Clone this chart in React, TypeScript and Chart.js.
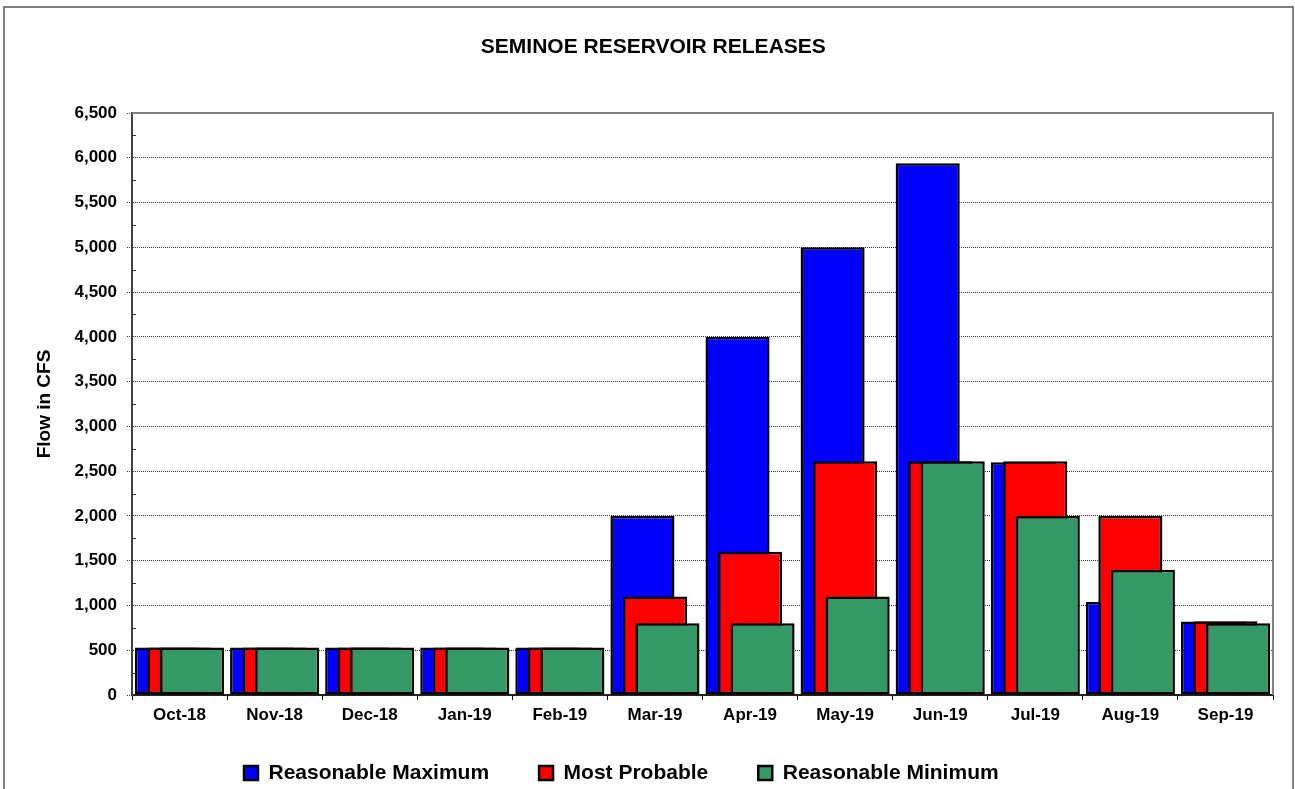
import React, { useEffect, useRef } from 'react';
import { Chart, registerables } from 'chart.js';

Chart.register(...registerables);

const categories = ['Oct-18', 'Nov-18', 'Dec-18', 'Jan-19', 'Feb-19', 'Mar-19', 'Apr-19', 'May-19', 'Jun-19', 'Jul-19', 'Aug-19', 'Sep-19'];
const reasonableMaximum = [530, 530, 530, 530, 530, 2000, 4000, 5000, 5940, 2600, 1040, 820];
const mostProbable = [530, 530, 530, 530, 530, 1100, 1600, 2610, 2610, 2610, 2000, 825];
const reasonableMinimum = [530, 530, 530, 530, 530, 800, 800, 1100, 2610, 2000, 1400, 800];
const seriesLabels = ['Reasonable Maximum', 'Most Probable', 'Reasonable Minimum'];
const seriesColors = ['#0000FF', '#FF0000', '#339966'];
const seriesShift = [-0.1316, 0, 0.1316];
const yMin = 0;
const yMax = 6500;
const yStep = 500;

const FONT = "'Liberation Sans', Arial, Helvetica, sans-serif";

export default function App() {
  const ref = useRef<HTMLCanvasElement>(null);

  useEffect(() => {
    const canvas = ref.current;
    if (!canvas) return;

    const shiftPlugin = {
      id: 'seriesShift',
      beforeDatasetDraw(chart: any, args: any) {
        const x = chart.scales.x;
        const w = x.getPixelForValue(1) - x.getPixelForValue(0);
        chart.ctx.save();
        chart.ctx.translate(seriesShift[args.index] * w, 0);
      },
      afterDatasetDraw(chart: any) {
        chart.ctx.restore();
      },
    };

    const decorPlugin = {
      id: 'decor',
      afterLayout(chart: any) {
        const lg = chart.legend;
        if (lg) {
          lg.left = 194;
          lg.top -= 12.5;
          lg.bottom -= 12.5;
        }
      },
      afterDraw(chart: any) {
        const ctx = chart.ctx;
        const { left, right, top } = chart.chartArea;
        const y = chart.scales.y;
        ctx.save();
        // minor ticks inside the value axis
        ctx.strokeStyle = '#333';
        ctx.lineWidth = 1;
        for (let v = yMin + yStep / 2; v < yMax; v += yStep) {
          const py = Math.round(y.getPixelForValue(v)) + 0.5;
          ctx.beginPath();
          ctx.moveTo(left, py);
          ctx.lineTo(left + 4, py);
          ctx.stroke();
        }
        // plot area top/right border
        ctx.strokeStyle = '#808080';
        ctx.lineWidth = 2;
        ctx.beginPath();
        ctx.moveTo(left, top);
        ctx.lineTo(right, top);
        ctx.lineTo(right, chart.scales.y.getPixelForValue(0));
        ctx.stroke();
        // outer chart frame
        ctx.strokeStyle = '#555';
        ctx.lineWidth = 1.5;
        ctx.strokeRect(4, 7, 1289, 900);
        ctx.restore();
      },
    };

    const seriesData = [reasonableMaximum, mostProbable, reasonableMinimum];

    const chart = new Chart(canvas, {
      type: 'bar',
      data: {
        labels: categories,
        datasets: seriesData.map((d, i) => ({
          label: seriesLabels[i],
          data: d,
          backgroundColor: seriesColors[i],
          borderColor: '#000',
          borderWidth: 2.5,
          borderSkipped: false,
          order: 3 - i,
          grouped: false,
          barPercentage: 0.674,
          categoryPercentage: 1,
        })),
      },
      options: {
        animation: false,
        responsive: true,
        maintainAspectRatio: false,
        layout: { padding: { left: 33.6, right: 22, top: 0, bottom: -17 } },
        plugins: {
          title: {
            display: true,
            text: 'SEMINOE RESERVOIR RELEASES',
            color: '#000',
            font: { family: FONT, size: 21, weight: 'bold' },
            padding: { top: 34.4, bottom: 53.4 },
          },
          legend: {
            position: 'bottom',
            align: 'start',
            labels: {
              boxWidth: 14,
              boxHeight: 14,
              padding: 50,
              color: '#000',
              font: { family: FONT, size: 21, weight: 'bold' },
              sort: (a: any, b: any) => a.datasetIndex - b.datasetIndex,
            },
          },
          tooltip: { enabled: false },
        },
        scales: {
          x: {
            grid: { offset: true, drawOnChartArea: false, drawTicks: true, tickLength: 5, color: '#000', lineWidth: 1 },
            border: { color: '#222', width: 2 },
            ticks: { color: '#000', font: { family: FONT, size: 17, weight: 'bold' }, padding: 5, maxRotation: 0, autoSkip: false },
            afterFit: (s: any) => { s.height = 30; },
          },
          y: {
            min: yMin,
            max: yMax,
            ticks: {
              stepSize: yStep,
              color: '#000',
              font: { family: FONT, size: 17, weight: 'bold' },
              padding: 10,
              callback: (v: any) => Number(v).toLocaleString('en-US'),
            },
            grid: {
              color: (c: any) => (c.tick && c.tick.value === 0 ? 'rgba(0,0,0,0)' : '#333'),
              tickColor: '#333',
              tickLength: 5,
              tickBorderDash: [1, 1],
              lineWidth: 1,
            },
            border: { color: '#404040', width: 2, dash: [1, 1] },
            title: {
              display: true,
              text: 'Flow in CFS',
              color: '#000',
              font: { family: FONT, size: 19, weight: 'bold' },
              padding: 0,
            },
            afterFit: (s: any) => { s.width = 98.4; },
          },
        },
      },
      plugins: [shiftPlugin, decorPlugin],
    } as any);

    return () => chart.destroy();
  }, []);

  return (
    <div style={{ position: 'fixed', left: 0, top: 0, width: 1295, height: 789, background: '#fff' }}>
      <canvas ref={ref} />
    </div>
  );
}
